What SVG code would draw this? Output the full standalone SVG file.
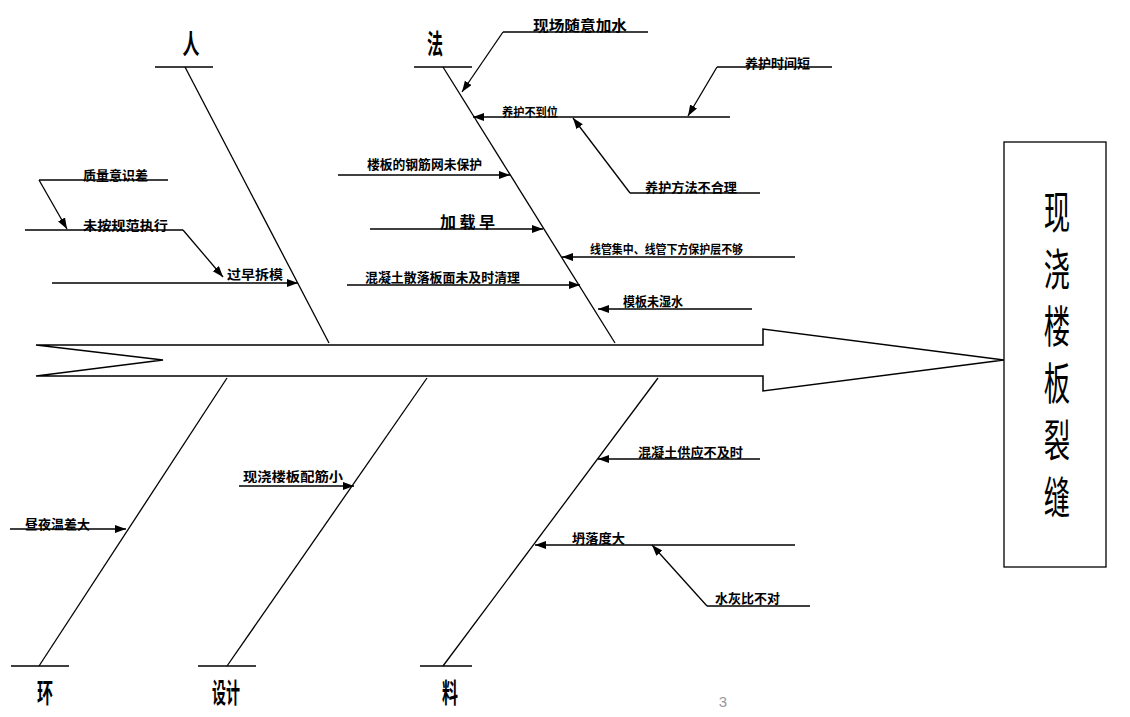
<svg xmlns="http://www.w3.org/2000/svg" width="1130" height="717" viewBox="0 0 1130 717">
<style>
.ln{stroke:#000;stroke-width:1.3;fill:none}
.ar{stroke:#000;stroke-width:1.3;fill:none;marker-end:url(#ah)}
.t{font-family:"Noto Sans CJK SC","Noto Sans CJK JP",sans-serif;font-weight:bold;font-size:13px;fill:#000;dominant-baseline:central}
.big{font-family:"Noto Sans CJK SC","Noto Sans CJK JP",sans-serif;font-weight:bold;font-size:27px;fill:#000;dominant-baseline:central;text-anchor:middle}
.title{font-family:"Noto Sans CJK SC","Noto Sans CJK JP",sans-serif;font-size:44px;fill:#000;writing-mode:vertical-rl;letter-spacing:13px}
</style>
<defs>
<marker id="ah" markerUnits="userSpaceOnUse" markerWidth="12" markerHeight="10" refX="11" refY="4" orient="auto">
<path d="M0,0 L11,4 L0,8 Z" fill="#000"/>
</marker>
</defs>
<rect width="1130" height="717" fill="#fff"/>

<g id="bones">
<line class="ln" x1="185" y1="67" x2="329" y2="343"/>
<line class="ln" x1="443" y1="67" x2="615" y2="343"/>
<line class="ln" x1="39" y1="666" x2="227" y2="378"/>
<line class="ln" x1="227" y1="666" x2="427" y2="378"/>
<line class="ln" x1="443" y1="666" x2="658" y2="378"/>
</g>

<g id="spine">
<path d="M36,345 L763,345 L763,329 L1004,360 L763,391 L763,376 L36,376 L163,360 Z" fill="#fff" stroke="#000" stroke-width="1.5" stroke-linejoin="miter"/>
</g>

<g id="effect">
<rect x="1004" y="142" width="102" height="425" fill="#fff" stroke="#000" stroke-width="1.3"/>
<text class="title" transform="translate(1057,0) scale(0.6,1)" x="0" y="190">现浇楼板裂缝</text>
</g>

<g id="cat-ren">
<line class="ln" x1="155" y1="67" x2="213" y2="67"/>
<text class="big" x="191" y="42" textLength="17" lengthAdjust="spacingAndGlyphs">人</text>
</g>
<g id="cat-fa">
<line class="ln" x1="414" y1="67" x2="472" y2="67"/>
<text class="big" x="435" y="42" textLength="16" lengthAdjust="spacingAndGlyphs">法</text>
</g>
<g id="cat-huan">
<line class="ln" x1="11" y1="666" x2="69" y2="666"/>
<text class="big" x="45" y="691" textLength="16" lengthAdjust="spacingAndGlyphs">环</text>
</g>
<g id="cat-sheji">
<line class="ln" x1="198" y1="666" x2="256" y2="666"/>
<text class="big" x="226" y="691" textLength="28" lengthAdjust="spacingAndGlyphs">设计</text>
</g>
<g id="cat-liao">
<line class="ln" x1="420" y1="666" x2="472" y2="666"/>
<text class="big" x="450" y="691" textLength="16" lengthAdjust="spacingAndGlyphs">料</text>
</g>

<g id="causes-text">
<text class="t" x="83" y="174" textLength="65" lengthAdjust="spacingAndGlyphs">质量意识差</text>
<text class="t" x="83" y="224" textLength="85" lengthAdjust="spacingAndGlyphs">未按规范执行</text>
<text class="t" x="227" y="273" textLength="56" lengthAdjust="spacingAndGlyphs">过早拆模</text>
<text class="t" x="533" y="24" style="font-size:15px" textLength="94" lengthAdjust="spacingAndGlyphs">现场随意加水</text>
<text class="t" x="502" y="111" style="font-size:12px" textLength="56" lengthAdjust="spacingAndGlyphs">养护不到位</text>
<text class="t" x="745" y="62" textLength="65" lengthAdjust="spacingAndGlyphs">养护时间短</text>
<text class="t" x="645" y="186" textLength="92" lengthAdjust="spacingAndGlyphs">养护方法不合理</text>
<text class="t" x="367" y="163" textLength="115" lengthAdjust="spacingAndGlyphs">楼板的钢筋网未保护</text>
<text class="t" x="440" y="221" style="font-size:16px" textLength="55" lengthAdjust="spacing">加载早</text>
<text class="t" x="590" y="248" style="font-size:12px" textLength="153" lengthAdjust="spacingAndGlyphs">线管集中、线管下方保护层不够</text>
<text class="t" x="365" y="276" textLength="155" lengthAdjust="spacingAndGlyphs">混凝土散落板面未及时清理</text>
<text class="t" x="623" y="300" textLength="60" lengthAdjust="spacingAndGlyphs">模板未湿水</text>
<text class="t" x="25" y="523" textLength="65" lengthAdjust="spacingAndGlyphs">昼夜温差大</text>
<text class="t" x="243" y="475" textLength="100" lengthAdjust="spacingAndGlyphs">现浇楼板配筋小</text>
<text class="t" x="638" y="451" textLength="105" lengthAdjust="spacingAndGlyphs">混凝土供应不及时</text>
<text class="t" x="572" y="537" textLength="53" lengthAdjust="spacingAndGlyphs">坍落度大</text>
<text class="t" x="715" y="597" textLength="65" lengthAdjust="spacingAndGlyphs">水灰比不对</text>
</g>

<g id="connectors">
<line class="ln" x1="39" y1="180" x2="168" y2="180"/>
<line class="ar" x1="39" y1="180" x2="67" y2="229"/>
<line class="ln" x1="25" y1="230" x2="183" y2="230"/>
<line class="ar" x1="183" y1="230" x2="223" y2="277"/>
<line class="ar" x1="52" y1="283" x2="298" y2="283"/>

<line class="ln" x1="503" y1="32" x2="648" y2="32"/>
<line class="ar" x1="503" y1="32" x2="462" y2="92"/>
<line class="ar" x1="730" y1="117" x2="473" y2="117"/>
<line class="ln" x1="717" y1="67" x2="832" y2="67"/>
<line class="ar" x1="717" y1="67" x2="688" y2="116"/>
<line class="ln" x1="630" y1="193" x2="760" y2="193"/>
<line class="ar" x1="630" y1="193" x2="573" y2="118"/>
<line class="ar" x1="338" y1="175" x2="510" y2="175"/>
<line class="ar" x1="370" y1="229" x2="543" y2="229"/>
<line class="ar" x1="795" y1="257" x2="562" y2="257"/>
<line class="ar" x1="347" y1="285" x2="580" y2="285"/>
<line class="ar" x1="752" y1="309" x2="598" y2="309"/>

<line class="ar" x1="10" y1="529" x2="126" y2="529"/>
<line class="ar" x1="239" y1="486" x2="354" y2="486"/>
<line class="ar" x1="760" y1="459" x2="598" y2="459"/>
<line class="ar" x1="795" y1="545" x2="535" y2="545"/>
<line class="ln" x1="707" y1="606" x2="810" y2="606"/>
<line class="ar" x1="707" y1="606" x2="652" y2="545"/>
</g>

<text x="723" y="701" font-family="Liberation Sans, sans-serif" font-size="15" fill="#999" text-anchor="middle" dominant-baseline="central">3</text>
</svg>
